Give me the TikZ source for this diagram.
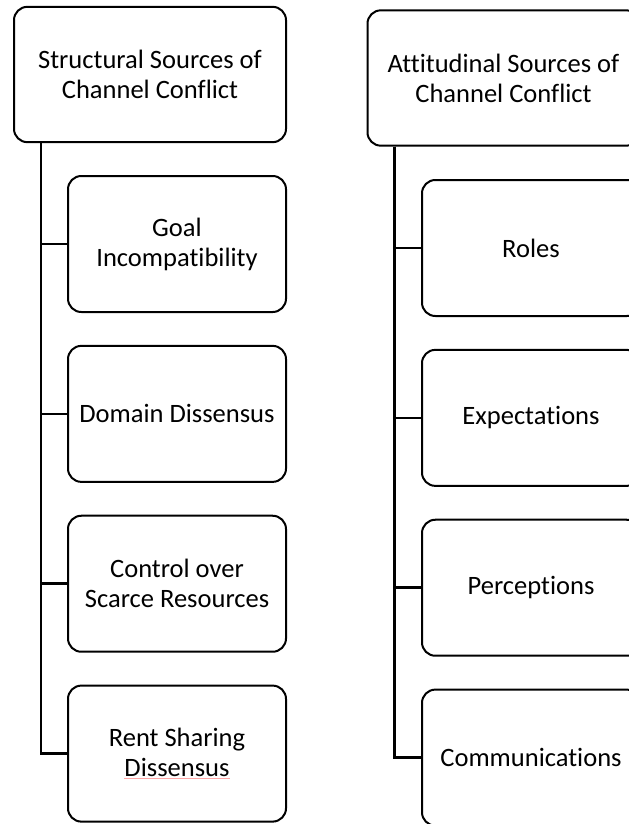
\documentclass[tikz,border=0pt]{standalone}
\usepackage{fontspec}
\setmainfont{Carlito}[Ligatures=NoCommon]
\usepackage{tikz}
\usetikzlibrary{positioning}
\tikzstyle{box3}=[draw,line width=1.5pt,rounded corners=10pt,align=center,font=\fontsize{19.9}{22.5}\selectfont]

\begin{document}
\begin{tikzpicture}[x=0.75pt,y=-0.75pt,node distance = 127.4pt]

\tikzstyle{head}=[box3,minimum width=204pt,minimum height=101.5pt]
\tikzstyle{box2}=[box3,minimum width=163.5pt,minimum height=102pt]
\tikzstyle{link}=[line width=1.9pt]

\useasboundingbox (0,0) rectangle (628,824);

% structural side
\node (S) [head] at (150,74.5)       {Structural Sources of\\
                                      Channel Conflict};

\node (S1) [box2] at (177,244)        {Goal\\
                                      Incompatibility};

\node (S2) [box2, below of = S1]     {Domain Dissensus};

\node (S3) [box2, below of = S2]     {Control over\\
                                      Scarce Resources};

\node (S4) [box2, below of = S3]     {Rent Sharing\\
                                      {\color{red!35}\underline{\color{black}Dissensus}}};

% attitudinal side
\node (A) [head] at (503.5,78)       {Attitudinal Sources of\\
                                      Channel Conflict};

\node (A1) [box2] at (531,248)        {Roles};

\node (A2) [box2, below of = A1]     {Expectations};

\node (A3) [box2, below of = A2]     {Perceptions};

\node (A4) [box2, below of = A3]     {Communications};


\foreach \n in {1,...,4} {
  \draw [link] ([xshift=21pt]S.south west) |- (S\n.west);
  \draw [link] ([xshift=21pt]A.south west) |- (A\n.west);
}

\end{tikzpicture}
\end{document}
